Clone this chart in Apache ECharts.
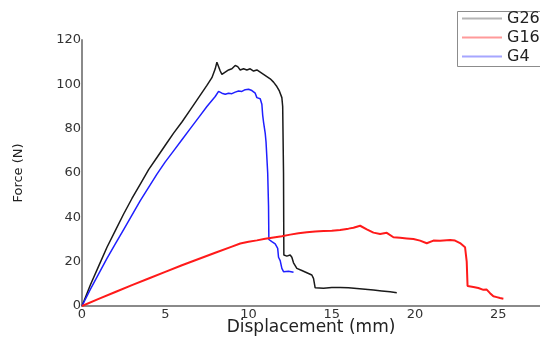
<!DOCTYPE html>
<html>
<head>
<meta charset="utf-8">
<script src="https://cdn.jsdelivr.net/npm/echarts@6/dist/echarts.min.js"></script>
<style>
  html, body { margin: 0; padding: 0; background: #fff; }
  #chart { width: 540px; height: 340px; }
</style>
</head>
<body>
<div id="chart"></div>
<script>
// Force–displacement curves, [displacement (mm), force (N)]
const g26 = [
  [0,0],[0.5,9.5],[1,18],[1.5,26.5],[2,34],[2.5,41.5],[3,48.5],[3.5,55],[4,61.5],[4.5,67],
  [5,72.5],[5.5,78],[6,83],[6.5,88.5],[7,94],[7.5,99.5],[7.8,103],[8.0,107],[8.1,110],[8.2,109.5],
  [8.3,106],[8.4,104.5],[8.6,105.5],[8.8,106.5],[9.0,107],[9.2,108.5],[9.35,108],[9.5,106.5],
  [9.7,107],[9.9,106.5],[10.1,107],[10.3,106],[10.5,106.5],[10.7,105.5],[10.9,104.5],[11.1,103.5],
  [11.3,102.5],[11.5,101],[11.7,99],[11.85,97],[12.0,94],[12.05,90],[12.1,60],[12.12,23],
  [12.3,22.5],[12.5,23],[12.6,22],[12.7,19.5],[12.9,17],[13.2,16],[13.5,15],[13.8,14],[13.9,12.5],
  [14.0,8.2],[14.5,8.0],[15,8.3],[15.5,8.4],[16,8.2],[16.5,7.9],[17,7.6],[17.5,7.2],[18,6.8],
  [18.5,6.4],[18.9,6.0]
];
const g16 = [
  [0,0],[1,3.2],[2,6.3],[3,9.4],[4,12.4],[5,15.4],[6,18.4],[7,21.2],[8,24],[9,26.8],[9.5,28.2],
  [10,29],[10.5,29.6],[11,30.3],[11.5,30.9],[12,31.5],[12.5,32.2],[13,32.8],[13.5,33.3],[14,33.6],
  [14.5,33.8],[15,34],[15.5,34.3],[16,34.9],[16.3,35.3],[16.7,36.2],[17.1,34.6],[17.5,33.1],
  [17.9,32.5],[18.3,33],[18.7,31],[19.1,30.8],[19.5,30.5],[19.9,30.2],[20.3,29.5],[20.7,28.3],
  [21.1,29.5],[21.5,29.4],[22.1,29.8],[22.4,29.5],[22.7,28.4],[23.0,26.5],[23.1,20],[23.15,9],
  [23.5,8.6],[23.8,8.1],[24.1,7.3],[24.3,7.4],[24.5,5.8],[24.7,4.4],[24.9,4.0],[25.1,3.6],[25.3,3.3]
];
const g4 = [
  [0,0],[0.5,7.5],[1,14.5],[1.5,21.5],[2,28],[2.5,34.5],[3,41],[3.5,47.5],[4,53.5],[4.5,59.5],
  [5,65],[5.5,70],[6,75],[6.5,80],[7,85],[7.5,90],[8,94.5],[8.2,96.8],[8.4,96],[8.6,95.5],
  [8.8,96],[9.0,95.8],[9.2,96.5],[9.4,97],[9.6,96.8],[9.8,97.6],[10.0,97.8],[10.2,97.2],
  [10.4,96],[10.5,94],[10.7,93.5],[10.8,91],[10.85,86],[10.9,83],[11.0,78],[11.05,74],
  [11.15,60],[11.2,45],[11.22,30],[11.4,29],[11.6,28],[11.75,26],[11.8,22],[11.9,20.5],
  [12.0,17],[12.1,15.5],[12.4,15.7],[12.7,15.2]
];

const seriesNames = ['G26', 'G16', 'G4'];
const xTicks = { min: 0, max: 27.5, step: 5 };
const yTicks = { min: 0, max: 120, step: 20 };

const font = 'DejaVu Sans, Liberation Sans, Arial, sans-serif';
const axisGray = '#8a8a8a';

const chart = echarts.init(document.getElementById('chart'), null, { renderer: 'canvas' });

chart.setOption({
  animation: false,
  backgroundColor: '#ffffff',
  grid: { left: 82, right: 0, top: 40, bottom: 34, outerBoundsMode: 'none' },
  // legend frame, running past the right edge of the canvas
  graphic: [{
    type: 'rect',
    left: 455, top: 9,
    shape: { width: 140, height: 55 },
    style: { fill: 'none', stroke: '#8c8c8c', lineWidth: 1 },
    silent: true
  }],
  legend: {
    left: 455, top: 9,
    orient: 'vertical',
    itemGap: 0,
    itemWidth: 40,
    itemHeight: 2,
    icon: 'rect',
    padding: [0, 0, 0, 7],
    borderWidth: 0,
    textStyle: { fontFamily: font, fontSize: 16, color: '#222', lineHeight: 19 },
    data: [
      { name: seriesNames[0], itemStyle: { color: '#b5b5b5' } },
      { name: seriesNames[1], itemStyle: { color: '#ff9a9a' } },
      { name: seriesNames[2], itemStyle: { color: '#a6a6ff' } }
    ]
  },
  xAxis: {
    type: 'value',
    min: xTicks.min, max: xTicks.max, interval: xTicks.step,
    name: 'Displacement (mm)',
    nameLocation: 'middle',
    nameGap: 22,
    nameMoveOverlap: false,
    nameTextStyle: { fontFamily: font, fontSize: 17, color: '#222', verticalAlign: 'middle' },
    axisLine: { onZero: false, lineStyle: { color: axisGray, width: 2 } },
    axisTick: { show: false },
    splitLine: { show: false },
    axisLabel: { fontFamily: font, fontSize: 13, color: '#333', margin: 2, showMaxLabel: false }
  },
  yAxis: {
    type: 'value',
    min: yTicks.min, max: yTicks.max, interval: yTicks.step,
    name: 'Force (N)',
    nameLocation: 'middle',
    nameGap: 57,
    nameMoveOverlap: false,
    nameTextStyle: { fontFamily: font, fontSize: 13, color: '#222' },
    axisLine: { show: true, onZero: false, lineStyle: { color: axisGray, width: 2 } },
    axisTick: { show: false },
    splitLine: { show: false },
    axisLabel: { fontFamily: font, fontSize: 13, color: '#333', margin: 1 }
  },
  series: [
    { name: seriesNames[0], type: 'line', data: g26, showSymbol: false,
      lineStyle: { color: '#1a1a1a', width: 1.5 }, itemStyle: { color: '#1a1a1a' } },
    { name: seriesNames[2], type: 'line', data: g4, showSymbol: false,
      lineStyle: { color: '#1f1fff', width: 1.5 }, itemStyle: { color: '#1f1fff' } },
    { name: seriesNames[1], type: 'line', data: g16, showSymbol: false,
      lineStyle: { color: '#ff1a1a', width: 2 }, itemStyle: { color: '#ff1a1a' } }
  ]
});
</script>
</body>
</html>
